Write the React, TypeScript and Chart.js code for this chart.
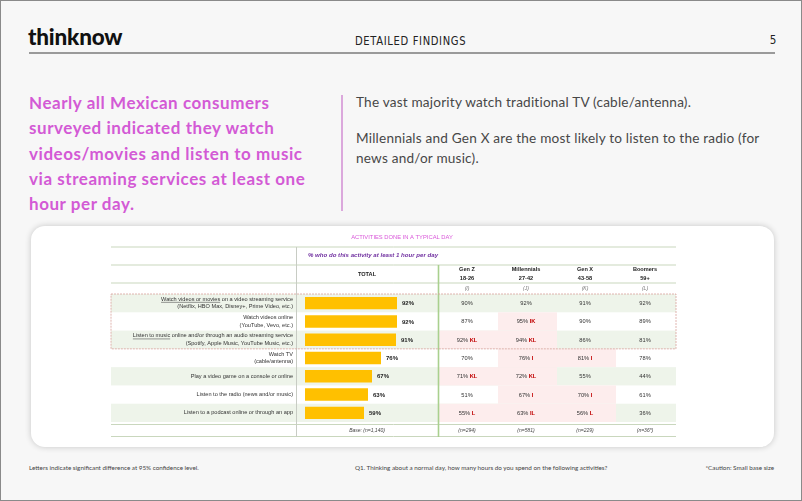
import React, { useEffect, useRef } from "react";
import { Chart, registerables } from "chart.js";
Chart.register(...registerables);

const activityLine1 = [
  "Watch videos or movies on a video streaming service",
  "Watch videos online",
  "Listen to music online and/or through an audio streaming service",
  "Watch TV",
  "Play a video game on a console or online",
  "Listen to the radio (news and/or music)",
  "Listen to a podcast online or through an app",
];
const activityLine2 = [
  "(Netflix, HBO Max, Disney+, Prime Video, etc.)",
  "(YouTube, Vevo, etc.)",
  "(Spotify, Apple Music, YouTube Music, etc.)",
  "(cable/antenna)",
  "",
  "",
  "",
];
const underlinedPart = ["Watch videos or movies", "", "Listen to music", "", "", "", ""];
const totalValues = [92, 92, 91, 76, 67, 63, 59];
const genNames = ["Gen Z", "Millennials", "Gen X", "Boomers"];
const genAges = ["18-26", "27-42", "43-58", "59+"];
const genLetters = ["(I)", "(J)", "(K)", "(L)"];
const genZ = [90, 87, 92, 70, 71, 51, 55];
const millennials = [92, 95, 94, 76, 72, 67, 63];
const genX = [91, 90, 86, 81, 55, 70, 56];
const boomers = [92, 89, 81, 78, 44, 61, 36];
const genZSig = ["", "", "KL", "", "KL", "", "L"];
const millSig = ["", "IK", "KL", "I", "KL", "I", "IL"];
const genXSig = ["", "", "", "I", "", "I", "L"];
const boomSig = ["", "", "", "", "", "", ""];
const bases = ["Base: (n=1,140)", "(n=294)", "(n=581)", "(n=229)", "(n=36*)"];

const OX = 100;
const OY = 228;
const CW = 590;
const CH = 215;
const TF = '"Liberation Sans", Arial, sans-serif';

const colBounds = [
  [438, 497],
  [497, 556],
  [556, 615],
  [615, 675],
];
const colCenters = [466, 525, 584, 644];

const tablePlugin = {
  id: "tablePlugin",
  beforeDatasetsDraw(chart: any) {
    const ctx = chart.ctx;
    const y = chart.scales.y;
    const area = chart.chartArea;
    const rowH = (area.bottom - area.top) / activityLine1.length;
    const px = (v: number) => v - OX;
    const py = (v: number) => v - OY;
    const genSigs = [genZSig, millSig, genXSig, boomSig];
    ctx.save();
    activityLine1.forEach((_, i) => {
      const c = y.getPixelForValue(i);
      const top = c - rowH / 2;
      if (i % 2 === 0) {
        ctx.fillStyle = "#eef4ea";
        ctx.fillRect(px(110), top, px(675) - px(110), rowH);
      }
      genSigs.forEach((sigs, g) => {
        if (sigs[i]) {
          ctx.fillStyle = "#fdeded";
          ctx.fillRect(px(colBounds[g][0]), top, colBounds[g][1] - colBounds[g][0], rowH);
        }
      });
    });
    ctx.strokeStyle = "#c9d7bd";
    ctx.lineWidth = 1;
    [246, 264, 282, 423.5, 435.5].forEach((ly) => {
      ctx.beginPath();
      ctx.moveTo(px(110), py(ly));
      ctx.lineTo(px(675), py(ly));
      ctx.stroke();
    });
    ctx.strokeStyle = "#c8ccc4";
    ctx.beginPath();
    ctx.moveTo(px(295.5), py(246));
    ctx.lineTo(px(295.5), py(436));
    ctx.stroke();
    ctx.strokeStyle = "#a9d08e";
    ctx.lineWidth = 1.6;
    ctx.beginPath();
    ctx.moveTo(px(437.5), py(264));
    ctx.lineTo(px(437.5), py(436));
    ctx.stroke();
    ctx.restore();
  },
  afterDatasetsDraw(chart: any) {
    const ctx = chart.ctx;
    const y = chart.scales.y;
    const x = chart.scales.x;
    const area = chart.chartArea;
    const rowH = (area.bottom - area.top) / activityLine1.length;
    const px = (v: number) => v - OX;
    const py = (v: number) => v - OY;
    const genVals = [genZ, millennials, genX, boomers];
    const genSigs = [genZSig, millSig, genXSig, boomSig];
    ctx.save();
    ctx.textBaseline = "middle";

    ctx.textAlign = "center";
    ctx.fillStyle = "#d957d9";
    ctx.font = `5.8px ${TF}`;
    ctx.fillText("ACTIVITIES DONE IN A TYPICAL DAY", px(401), py(236));
    ctx.fillStyle = "#7030a0";
    ctx.font = `italic bold 6.1px ${TF}`;
    ctx.fillText("% who do this activity at least 1 hour per day", px(372), py(254.5));
    ctx.fillStyle = "#222";
    ctx.font = `bold 5.6px ${TF}`;
    ctx.fillText("TOTAL", px(366), py(273));
    genNames.forEach((n, g) => {
      ctx.font = `bold 5.6px ${TF}`;
      ctx.fillStyle = "#222";
      ctx.fillText(n, px(colCenters[g]), py(268.5));
      ctx.fillText(genAges[g], px(colCenters[g]), py(277));
      ctx.font = `italic 5px ${TF}`;
      ctx.fillStyle = "#777";
      ctx.fillText(genLetters[g], px(colCenters[g]), py(287.5));
    });

    activityLine1.forEach((l1, i) => {
      const c = y.getPixelForValue(i);
      const l2 = activityLine2[i];
      ctx.font = `5.6px ${TF}`;
      ctx.fillStyle = "#333";
      ctx.textAlign = "right";
      const right = px(292);
      const y1 = l2 ? c - 3.8 : c;
      ctx.fillText(l1, right, y1);
      if (underlinedPart[i]) {
        const full = ctx.measureText(l1).width;
        const uw = ctx.measureText(underlinedPart[i]).width;
        const sx = right - full;
        ctx.strokeStyle = "#333";
        ctx.lineWidth = 0.5;
        ctx.beginPath();
        ctx.moveTo(sx, y1 + 3);
        ctx.lineTo(sx + uw, y1 + 3);
        ctx.stroke();
      }
      if (l2) ctx.fillText(l2, right, c + 3.8);

      ctx.textAlign = "left";
      ctx.font = `bold 6px ${TF}`;
      ctx.fillStyle = "#222";
      ctx.fillText(totalValues[i] + "%", x.getPixelForValue(totalValues[i]) + 5, c + 0.5);

      genVals.forEach((vals, g) => {
        const main = vals[i] + "%";
        const sig = genSigs[g][i];
        ctx.font = `5.7px ${TF}`;
        const mw = ctx.measureText(main).width;
        ctx.font = `bold 5.7px ${TF}`;
        const sw = sig ? ctx.measureText(" " + sig).width : 0;
        const start = px(colCenters[g]) - (mw + sw) / 2;
        ctx.textAlign = "left";
        ctx.font = `5.7px ${TF}`;
        ctx.fillStyle = "#333";
        ctx.fillText(main, start, c + 0.5);
        if (sig) {
          ctx.font = `bold 5.7px ${TF}`;
          ctx.fillStyle = "#c00000";
          ctx.fillText(" " + sig, start + mw, c + 0.5);
        }
      });
    });

    const boxTop = y.getPixelForValue(0) - rowH / 2;
    const boxBottom = y.getPixelForValue(2) + rowH / 2;
    ctx.strokeStyle = "#d8a29c";
    ctx.lineWidth = 0.8;
    ctx.setLineDash([2, 1]);
    ctx.strokeRect(px(110), boxTop, px(675) - px(110), boxBottom - boxTop);
    ctx.setLineDash([]);

    ctx.textAlign = "center";
    ctx.font = `italic 5px ${TF}`;
    ctx.fillStyle = "#444";
    ctx.fillText(bases[0], px(366), py(429.5));
    for (let g = 0; g < 4; g++) ctx.fillText(bases[g + 1], px(colCenters[g]), py(429.5));
    ctx.restore();
  },
};

function TableChart() {
  const ref = useRef<HTMLCanvasElement>(null);
  useEffect(() => {
    if (!ref.current) return;
    const chart = new Chart(ref.current, {
      type: "bar",
      data: {
        labels: activityLine1,
        datasets: [
          {
            data: totalValues,
            backgroundColor: "#ffc000",
            barPercentage: 0.68,
            categoryPercentage: 1,
          },
        ],
      },
      options: {
        indexAxis: "y",
        responsive: false,
        animation: false,
        layout: { padding: { left: 304 - OX, right: OX + CW - 404, top: 293 - OY, bottom: OY + CH - 421 } },
        plugins: { legend: { display: false }, tooltip: { enabled: false } },
        scales: {
          x: { type: "linear", min: 0, max: 100, display: false },
          y: { type: "category", display: false },
        },
      },
      plugins: [tablePlugin],
    } as any);
    return () => chart.destroy();
  }, []);
  return (
    <canvas
      ref={ref}
      width={CW}
      height={CH}
      style={{ position: "absolute", left: OX, top: OY, width: CW, height: CH }}
    />
  );
}

const abs = (s: React.CSSProperties): React.CSSProperties => ({ position: "absolute", ...s });

export default function App() {
  return (
    <div
      style={{
        position: "absolute",
        left: 0,
        top: 0,
        width: 802,
        height: 501,
        background: "#f7f7f7",
        border: "1px solid #8a8a8a",
        boxSizing: "border-box",
        overflow: "hidden",
        fontFamily: "Lato, 'Noto Sans', sans-serif",
      }}
    >
      <div style={abs({ left: 27, top: 22, fontSize: 22.5, fontWeight: 900, color: "#111", letterSpacing: -0.2 })}>thinknow</div>
      <div
        style={abs({
          left: 354,
          top: 32,
          fontSize: 12.5,
          color: "#222",
          fontFamily: "'DejaVu Sans', sans-serif",
          letterSpacing: 0.8,
          transform: "scaleX(0.8)",
          transformOrigin: "left center",
          whiteSpace: "nowrap",
        })}
      >
        DETAILED FINDINGS
      </div>
      <div style={abs({ left: 768, top: 31, fontSize: 13, color: "#222", fontFamily: "'DejaVu Sans', sans-serif", transform: "scaleX(0.8)" })}>5</div>
      <div style={abs({ left: 28, top: 51, width: 746, height: 1.5, background: "#9a9a9a" })} />

      <div
        style={abs({
          left: 28,
          top: 89,
          width: 320,
          fontSize: 17,
          lineHeight: "25.3px",
          fontWeight: 700,
          letterSpacing: 0.55,
          color: "#d35ad5",
          whiteSpace: "nowrap",
        })}
      >
        Nearly all Mexican consumers
        <br />
        surveyed indicated they watch
        <br />
        videos/movies and listen to music
        <br />
        via streaming services at least one
        <br />
        hour per day.
      </div>
      <div style={abs({ left: 340, top: 94, width: 1.5, height: 116, background: "#dba8dc" })} />
      <div style={abs({ left: 355, top: 91, fontSize: 13.6, letterSpacing: 0.2, color: "#474747", lineHeight: "20px", whiteSpace: "nowrap" })}>
        The vast majority watch traditional TV (cable/antenna).
      </div>
      <div style={abs({ left: 355, top: 127, fontSize: 13.6, letterSpacing: 0.2, color: "#474747", lineHeight: "20px", whiteSpace: "nowrap" })}>
        Millennials and Gen X are the most likely to listen to the radio (for
        <br />
        news and/or music).
      </div>

      <div
        style={abs({
          left: 30,
          top: 225,
          width: 743,
          height: 221,
          background: "#ffffff",
          borderRadius: 14,
          boxShadow: "0 0 6px rgba(0,0,0,0.2)",
        })}
      />
      <TableChart />

      <div style={abs({ left: 28, top: 463, fontSize: 6.3, color: "#444", whiteSpace: "nowrap" })}>
        Letters indicate significant difference at 95% confidence level.
      </div>
      <div style={abs({ left: 354, top: 463, fontSize: 6.3, color: "#444", whiteSpace: "nowrap" })}>
        Q1. Thinking about a normal day, how many hours do you spend on the following activities?
      </div>
      <div style={abs({ right: 27, top: 463, fontSize: 6.3, color: "#444", whiteSpace: "nowrap" })}>
        *Caution: Small base size
      </div>
    </div>
  );
}
